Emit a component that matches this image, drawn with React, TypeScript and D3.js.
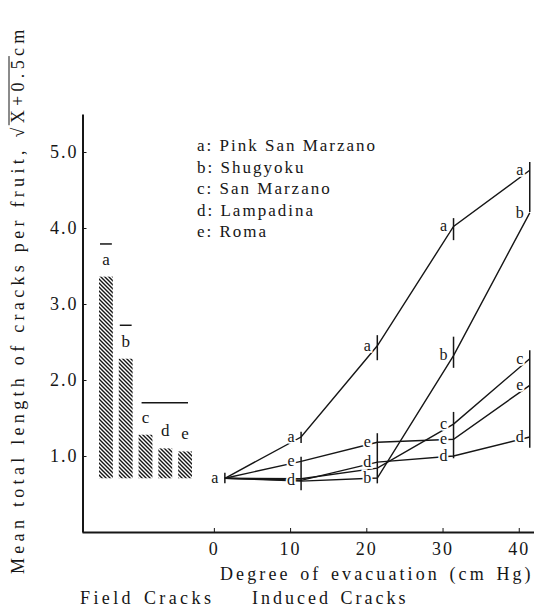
import React, { useEffect, useRef } from 'react';
import * as d3 from 'd3';

// cultivars (letters used as plotting symbols)
const cultivars = ['a', 'b', 'c', 'd', 'e'];
const cultivarNames = ['Pink San Marzano', 'Shugyoku', 'San Marzano', 'Lampadina', 'Roma'];

// field cracks (sqrt(X + 0.5)), bars start from the no-crack level sqrt(0.5)
const fieldValues = [3.36, 2.28, 1.28, 1.1, 1.06];
const baseValue = 0.707;
const fieldGroups = [
  { from: 'a', to: 'a', value: 3.79 },
  { from: 'b', to: 'b', value: 2.72 },
  { from: 'c', to: 'e', value: 1.7 },
];

// induced cracks vs degree of evacuation
const evacuation = [0, 10, 20, 30, 40];
const seriesA = [0.707, 1.25, 2.45, 4.02, 4.76];
const seriesB = [0.707, 0.67, 0.71, 2.32, 4.2];
const seriesC = [0.707, 0.7, 0.84, 1.42, 2.28];
const seriesD = [0.707, 0.68, 0.92, 1.0, 1.25];
const seriesE = [0.707, 0.93, 1.18, 1.22, 1.93];
const shownLabels = [
  ['a'],
  ['a', 'e', 'd'],
  ['a', 'e', 'd', 'b'],
  ['a', 'b', 'c', 'e', 'd'],
  ['a', 'b', 'c', 'e', 'd'],
];
// LSD bars
const lsdBars = [
  { x: 0, lo: 0.64, hi: 0.78 },
  { x: 10, lo: 1.17, hi: 1.32 },
  { x: 10, lo: 0.55, hi: 0.99 },
  { x: 20, lo: 2.26, hi: 2.59 },
  { x: 20, lo: 0.64, hi: 1.3 },
  { x: 30, lo: 3.84, hi: 4.13 },
  { x: 30, lo: 2.16, hi: 2.57 },
  { x: 30, lo: 0.97, hi: 1.58 },
  { x: 40, lo: 4.21, hi: 4.87 },
  { x: 40, lo: 1.11, hi: 2.39 },
];

const yTicks = [1, 2, 3, 4, 5];
const xTicks = [0, 10, 20, 30, 40];

const FONT = '"Liberation Serif", "Times New Roman", serif';
const INK = '#161616';

const App = () => {
  const svgRef = useRef<SVGSVGElement | null>(null);

  useEffect(() => {
    const width = 534;
    const height = 609;
    const svg = d3.select(svgRef.current).attr('width', width).attr('height', height);
    svg.selectAll('*').remove();

    svg.append('rect').attr('width', width).attr('height', height).attr('fill', '#fff');

    const y = d3.scaleLinear().domain([0, 5.5]).range([532, 114]);
    const x = d3.scaleLinear().domain([-17.3, 42]).range([82, 534]);
    const band = d3.scaleBand().domain(cultivars).range([99, 192]).paddingInner(0.3).paddingOuter(0);
    const px = (v: number) => x(v) + 11;

    // hatch pattern
    const defs = svg.append('defs');
    const pat = defs.append('pattern')
      .attr('id', 'hatch')
      .attr('patternUnits', 'userSpaceOnUse')
      .attr('width', 4)
      .attr('height', 4);
    pat.append('path')
      .attr('d', 'M-1,-1 L5,5 M-1,3 L1,5 M3,-1 L5,1')
      .attr('stroke', INK)
      .attr('stroke-width', 1.4);

    // axes
    const yAxis = svg.append('g')
      .attr('transform', 'translate(82.5,0)')
      .call(d3.axisLeft(y).tickValues(yTicks).tickFormat(d3.format('.1f')).tickSizeInner(-4).tickSizeOuter(0).tickPadding(4));
    const xAxis = svg.append('g')
      .attr('transform', 'translate(0,532)')
      .call(d3.axisBottom(x).tickValues(xTicks).tickSizeInner(-4).tickSizeOuter(0).tickPadding(10));
    [yAxis, xAxis].forEach(g => {
      g.select('.domain').attr('stroke', INK).attr('stroke-width', 2);
      g.selectAll('.tick line').attr('stroke', INK).attr('stroke-width', 1);
      g.selectAll('.tick text')
        .attr('fill', INK)
        .style('font-family', FONT)
        .style('font-size', '18px')
        .style('letter-spacing', '2px');
    });

    // field crack bars
    svg.append('g')
      .selectAll('rect')
      .data(fieldValues)
      .enter()
      .append('rect')
      .attr('x', (d, i) => band(cultivars[i]) as number)
      .attr('width', band.bandwidth())
      .attr('y', d => y(d))
      .attr('height', d => y(baseValue) - y(d))
      .attr('fill', 'url(#hatch)');

    svg.append('g')
      .selectAll('text')
      .data(fieldValues)
      .enter()
      .append('text')
      .attr('x', (d, i) => (band(cultivars[i]) as number) + band.bandwidth() / 2)
      .attr('y', d => y(d) - 12)
      .attr('text-anchor', 'middle')
      .style('font-family', FONT)
      .style('font-size', '17px')
      .attr('fill', INK)
      .text((d, i) => cultivars[i]);

    svg.append('g')
      .selectAll('line')
      .data(fieldGroups)
      .enter()
      .append('line')
      .attr('x1', d => (band(d.from) as number) + (d.from === d.to ? 1 : 3))
      .attr('x2', d => (band(d.to) as number) + band.bandwidth() - (d.from === d.to ? 1 : 4))
      .attr('y1', d => y(d.value))
      .attr('y2', d => y(d.value))
      .attr('stroke', INK)
      .attr('stroke-width', 1.5);

    // induced crack lines
    const allSeries = [seriesA, seriesB, seriesC, seriesD, seriesE];
    const line = d3.line<number>()
      .x((d, i) => px(evacuation[i]))
      .y(d => y(d));
    svg.append('g')
      .selectAll('path')
      .data(allSeries)
      .enter()
      .append('path')
      .attr('d', d => line(d))
      .attr('fill', 'none')
      .attr('stroke', INK)
      .attr('stroke-width', 1.4);

    svg.append('g')
      .selectAll('line')
      .data(lsdBars)
      .enter()
      .append('line')
      .attr('x1', d => px(d.x))
      .attr('x2', d => px(d.x))
      .attr('y1', d => y(d.lo))
      .attr('y2', d => y(d.hi))
      .attr('stroke', INK)
      .attr('stroke-width', 1.5);

    const pointLabels: { x: number; v: number; k: string }[] = [];
    shownLabels.forEach((keys, i) => {
      keys.forEach(k => {
        const s = allSeries[cultivars.indexOf(k)];
        pointLabels.push({ x: evacuation[i], v: s[i], k });
      });
    });
    svg.append('g')
      .selectAll('text')
      .data(pointLabels)
      .enter()
      .append('text')
      .attr('x', d => x(d.x) + 1)
      .attr('y', d => y(d.v))
      .attr('dy', '0.3em')
      .attr('text-anchor', 'middle')
      .style('font-family', FONT)
      .style('font-size', '16px')
      .style('paint-order', 'stroke')
      .attr('stroke', '#fff')
      .attr('stroke-width', 3.5)
      .attr('fill', INK)
      .text(d => d.k);

    // legend
    svg.append('g')
      .selectAll('text')
      .data(cultivars)
      .enter()
      .append('text')
      .attr('x', 197)
      .attr('y', (d, i) => 151 + i * 21.5)
      .style('font-family', FONT)
      .style('font-size', '17px')
      .style('letter-spacing', '2px')
      .attr('fill', INK)
      .text((d, i) => `${d}: ${cultivarNames[i]}`);

    // axis titles
    const title = (t: string, tx: number, ty: number, ls: number) =>
      svg.append('text')
        .attr('x', tx)
        .attr('y', ty)
        .style('font-family', FONT)
        .style('font-size', '18px')
        .style('letter-spacing', `${ls}px`)
        .style('word-spacing', '2px')
        .attr('fill', INK)
        .text(t);
    title('Degree of evacuation (cm Hg)', 220, 580, 3.1);
    title('Field Cracks', 80, 604, 3.4);
    title('Induced Cracks', 252, 604, 3);

    const yl = svg.append('g').attr('transform', 'translate(24,574) rotate(-90)');
    const ylText = yl.append('text')
      .style('font-family', FONT)
      .style('font-size', '18px')
      .style('letter-spacing', '4.3px')
      .attr('fill', INK);
    const main = 'Mean total length of cracks per fruit, ';
    const rad = 'X+0.5';
    ylText.append('tspan').text(main + '\u221A');
    ylText.append('tspan').text(rad);
    ylText.append('tspan').text('cm');
    const node = ylText.node() as SVGTextElement;
    const start = node.getSubStringLength(0, main.length + 1);
    const len = node.getSubStringLength(main.length + 1, rad.length);
    yl.append('line')
      .attr('x1', start - 2)
      .attr('x2', start + len)
      .attr('y1', -15)
      .attr('y2', -15)
      .attr('stroke', INK)
      .attr('stroke-width', 1);
  }, []);

  return <svg ref={svgRef} style={{ position: 'absolute', left: 0, top: 0, display: 'block' }} />;
};

export default App;
